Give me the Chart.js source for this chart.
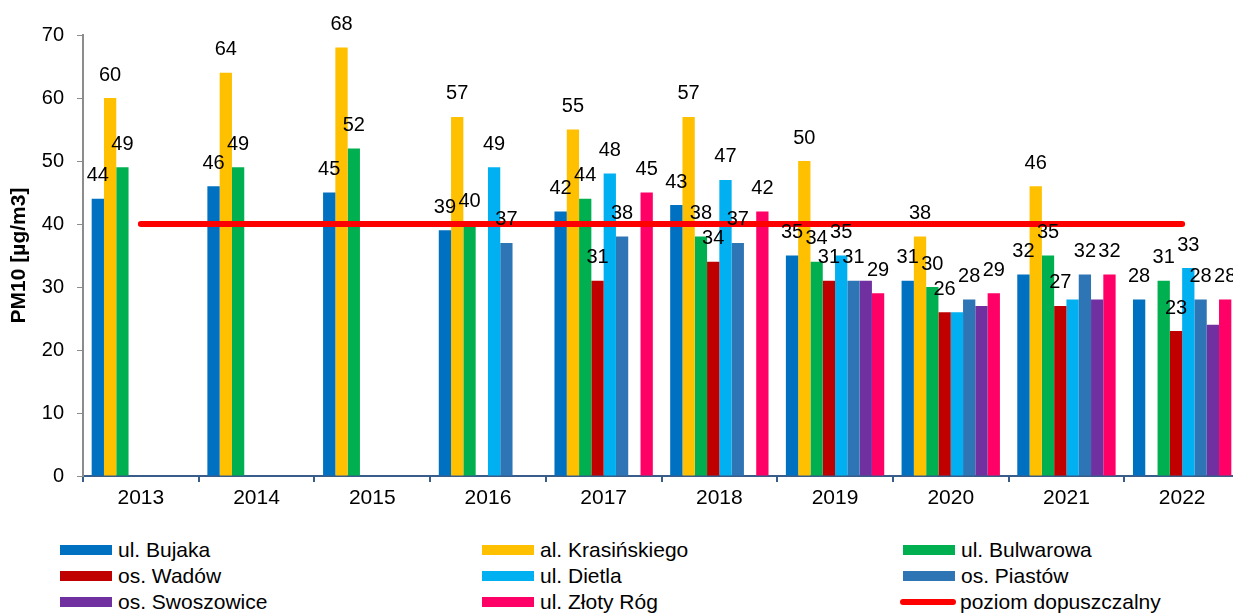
<!DOCTYPE html>
<html lang="pl">
<head>
  <meta charset="UTF-8">
  <title>PM10 - stężenia średnioroczne</title>
  <script src="https://cdn.jsdelivr.net/npm/chart.js"></script>
  <style>
    html, body {
      margin: 0;
      padding: 0;
      background: #fff;
      overflow: hidden;
      font-family: "Liberation Sans", Arial, sans-serif;
    }
    #wrap {
      position: relative;
      width: 1240px;
      height: 613px;
    }
    #legend {
      position: absolute;
      left: 60px;
      top: 537px;
      display: grid;
      grid-template-columns: 422px 421px auto;
      grid-auto-rows: 26px;
      font-size: 21px;
      color: #000;
    }
    .item { display: flex; align-items: center; white-space: nowrap; }
    .swatch { width: 52px; height: 10px; margin-right: 6px; }
    .swatch.line { width: 56px; height: 6px; border-radius: 3px; margin-left: -3px; margin-right: 4px; }
  </style>
</head>
<body>
  <div id="wrap">
    <canvas id="pm10" width="1240" height="520"></canvas>
    <div id="legend"></div>
  </div>

  <script>
    const years = ['2013', '2014', '2015', '2016', '2017', '2018', '2019', '2020', '2021', '2022'];

    // annual mean PM10 per station [µg/m3], null = no measurement
    const bujaka       = [44, 46, 45, 39, 42, 43, 35, 31, 32, 28];
    const krasinskiego = [60, 64, 68, 57, 55, 57, 50, 38, 46, null];
    const bulwarowa    = [49, 49, 52, 40, 44, 38, 34, 30, 35, 31];
    const wadow        = [null, null, null, null, 31, 34, 31, 26, 27, 23];
    const dietla       = [null, null, null, 49, 48, 47, 35, 26, 28, 33];
    const piastow      = [null, null, null, 37, 38, 37, 31, 28, 32, 28];
    const swoszowice   = [null, null, null, null, null, null, 31, 27, 28, 24];
    const zlotyRog     = [null, null, null, null, 45, 42, 29, 29, 32, 28];
    const limitValue   = 40;

    const yTicks = [0, 10, 20, 30, 40, 50, 60, 70];

    // values printed above bars; some are left out where they would collide
    const noLabel = { 'ul. Dietla': ['2020', '2021'], 'os. Swoszowice': years };

    const FONT = '"Liberation Sans", Arial, sans-serif';

    const bar = (label, data, color) => ({
      type: 'bar', label, data,
      backgroundColor: color,
      borderWidth: 0,
      barPercentage: 1.0,
      categoryPercentage: 0.85
    });

    const datasets = [
      bar('ul. Bujaka', bujaka, '#0070C0'),
      bar('al. Krasińskiego', krasinskiego, '#FFC000'),
      bar('ul. Bulwarowa', bulwarowa, '#00B050'),
      bar('os. Wadów', wadow, '#C00000'),
      bar('ul. Dietla', dietla, '#00B0F0'),
      bar('os. Piastów', piastow, '#2E75B6'),
      bar('os. Swoszowice', swoszowice, '#7030A0'),
      bar('ul. Złoty Róg', zlotyRog, '#FF0066'),
      {
        type: 'line',
        label: 'poziom dopuszczalny',
        data: years.map(() => limitValue),
        borderColor: '#FF0000',
        backgroundColor: '#FF0000',
        borderWidth: 6,
        borderCapStyle: 'round',
        pointRadius: 0,
        pointHoverRadius: 0,
        order: -1
      }
    ];

    // numbers above the bars
    const barValues = {
      id: 'barValues',
      afterDatasetsDraw(chart) {
        const ctx = chart.ctx;
        ctx.save();
        ctx.font = '20px ' + FONT;
        ctx.fillStyle = '#000';
        ctx.textAlign = 'center';
        ctx.textBaseline = 'middle';
        chart.data.datasets.forEach((ds, i) => {
          if (ds.type !== 'bar') return;
          const skip = noLabel[ds.label] || [];
          chart.getDatasetMeta(i).data.forEach((el, j) => {
            const v = ds.data[j];
            if (v === null || skip.includes(years[j])) return;
            ctx.fillText(String(v), el.x, el.y - 23);
          });
        });
        ctx.restore();
      }
    };

    const chart = new Chart(document.getElementById('pm10'), {
      data: { labels: years, datasets },
      options: {
        responsive: false,
        animation: false,
        layout: { padding: { top: 35, left: 0, right: 0, bottom: 0 } },
        plugins: {
          legend: { display: false },
          tooltip: { enabled: false }
        },
        scales: {
          x: {
            offset: true,
            afterFit: s => { s.height = 44; },
            grid: {
              offset: true,
              drawOnChartArea: false,
              drawTicks: true,
              tickLength: 6,
              color: '#385D8A',
              lineWidth: 2
            },
            border: { color: '#385D8A', width: 2 },
            ticks: { color: '#000', font: { family: FONT, size: 21 }, padding: 4 }
          },
          y: {
            min: 0,
            max: 70,
            afterFit: s => { s.width = 83; },
            afterBuildTicks: s => { s.ticks = yTicks.map(v => ({ value: v })); },
            grid: {
              drawOnChartArea: false,
              drawTicks: true,
              tickLength: 6,
              color: '#8C8C8C'
            },
            border: { color: '#8C8C8C', width: 2 },
            ticks: { color: '#000', font: { family: FONT, size: 20 }, padding: 13 },
            title: {
              display: true,
              text: 'PM10 [µg/m3]',
              color: '#000',
              font: { family: FONT, size: 21, weight: 'bold' },
              padding: { top: 7, bottom: 0 }
            }
          }
        }
      },
      plugins: [barValues]
    });

    // legend in three columns, built from the chart's datasets
    const legend = document.getElementById('legend');
    chart.data.datasets.forEach(ds => {
      const item = document.createElement('div');
      item.className = 'item';
      const sw = document.createElement('span');
      sw.className = 'swatch' + (ds.type === 'line' ? ' line' : '');
      sw.style.background = ds.type === 'line' ? ds.borderColor : ds.backgroundColor;
      const txt = document.createElement('span');
      txt.textContent = ds.label;
      item.appendChild(sw);
      item.appendChild(txt);
      legend.appendChild(item);
    });
  </script>
</body>
</html>
